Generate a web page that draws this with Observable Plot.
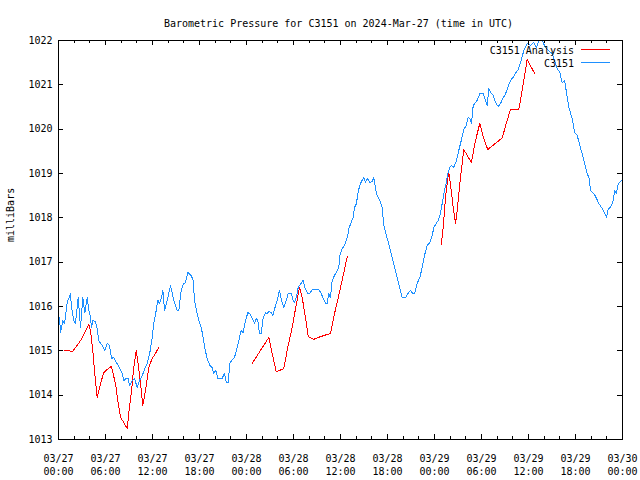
<!DOCTYPE html>
<html>
<head>
<meta charset="utf-8">
<script src="https://cdn.jsdelivr.net/npm/d3@7"></script>
<script src="https://cdn.jsdelivr.net/npm/@observablehq/plot@0.6"></script>
<style>
  html, body { margin: 0; padding: 0; background: #fff; }
</style>
</head>
<body>
<div id="chart"></div>
<script>
const titleText = "Barometric Pressure for C3151 on 2024-Mar-27 (time in UTC)";
const yLabelText = "milliBars";
const seriesNames = ["C3151 Analysis", "C3151"];
const seriesColors = ["#ff0000", "#1e90ff"];
const startUTC = Date.UTC(2024, 2, 27, 0, 0);

// hours since 2024-03-27 00:00 UTC
const xTickHours = [0, 6, 12, 18, 24, 30, 36, 42, 48, 54, 60, 66, 72];
const yTicks = [1013, 1014, 1015, 1016, 1017, 1018, 1019, 1020, 1021, 1022];

// C3151 observed
const blueHours = [0.13,0.26,0.55,0.77,1.11,1.53,1.66,1.95,2.17,2.51,2.68,2.81,3.1,3.36,3.66,3.87,4.09,4.21,4.38,4.72,4.94,5.14,5.58,5.91,6.22,6.51,6.77,7.06,7.37,7.79,8.13,8.34,8.64,8.9,9.06,9.41,9.7,10.05,10.34,10.69,11.02,11.32,11.66,11.96,12.17,12.47,12.68,12.89,13.15,13.32,13.55,13.88,14.3,14.72,15.15,15.36,15.66,15.92,16.21,16.51,16.94,17.2,17.36,17.62,17.91,18.22,18.47,18.68,18.98,19.32,19.62,19.83,20.08,20.34,20.9,21.19,21.41,21.66,21.87,22.17,22.47,22.81,23.11,23.32,23.58,23.87,24.17,24.42,24.73,25.02,25.24,25.44,25.66,25.88,26.13,26.43,26.64,26.85,27.15,27.36,27.61,27.92,28.21,28.47,28.76,29.07,29.32,29.71,29.96,30.13,30.35,30.6,30.89,31.24,31.44,31.83,32.08,32.39,33.23,33.54,33.79,34.09,34.3,34.51,34.72,34.94,35.24,35.58,35.78,35.91,36.22,36.51,36.73,36.93,37.06,37.37,37.62,37.79,38.04,38.21,38.46,38.68,38.98,39.19,39.41,39.74,40.05,40.25,40.47,40.69,41.02,41.32,41.53,41.75,42.04,42.38,42.68,43.02,43.32,43.57,43.88,44.3,44.72,44.94,45.23,45.45,45.79,46.12,46.43,46.72,47.07,47.4,47.71,47.91,48.22,48.47,48.68,48.98,49.28,49.49,49.7,49.95,50.17,50.46,50.81,51.1,51.41,51.74,52.05,52.3,52.51,52.72,52.94,53.15,53.45,53.78,54.22,54.42,54.73,54.93,55.15,55.49,55.79,56.13,56.43,56.72,57.07,57.36,57.7,58.05,58.34,58.64,58.98,59.4,59.83,60.25,60.68,61.02,61.32,61.75,62.17,62.6,63.03,63.32,63.66,64.0,64.3,64.6,64.85,65.15,65.58,65.87,66.22,66.55,66.85,67.15,67.49,67.75,67.92,68.13,68.34,68.68,68.98,69.41,69.71,69.96,70.18,70.47,70.81,71.02,71.23,71.45,71.66,71.87];
const blueValues = [1015.75,1015.41,1015.68,1015.62,1016.09,1016.29,1015.98,1015.68,1015.62,1016.2,1015.84,1015.53,1016.2,1015.86,1016.2,1015.91,1015.75,1015.53,1015.68,1015.66,1015.5,1015.23,1015.12,1015.0,1015.17,1015.12,1014.83,1014.85,1014.74,1014.62,1014.49,1014.33,1014.38,1014.38,1014.22,1014.33,1014.38,1014.17,1014.33,1014.44,1014.6,1014.71,1014.96,1015.3,1015.62,1015.91,1016.14,1016.07,1016.2,1016.36,1015.91,1016.14,1016.47,1016.14,1015.91,1015.91,1016.36,1016.5,1016.54,1016.77,1016.7,1016.59,1016.14,1015.91,1015.68,1015.53,1015.3,1015.05,1014.83,1014.67,1014.62,1014.49,1014.56,1014.38,1014.38,1014.49,1014.29,1014.29,1014.71,1014.8,1014.85,1015.08,1015.3,1015.46,1015.41,1015.68,1015.86,1015.84,1015.73,1015.62,1015.73,1015.68,1015.39,1015.39,1015.75,1015.86,1015.84,1015.89,1015.86,1015.8,1015.96,1016.14,1016.36,1016.14,1015.98,1016.14,1016.29,1016.29,1016.14,1016.09,1016.2,1016.43,1016.5,1016.59,1016.43,1016.29,1016.29,1016.38,1016.38,1016.29,1016.18,1016.07,1016.07,1016.29,1016.2,1016.59,1016.7,1016.81,1016.88,1017.15,1017.31,1017.38,1017.49,1017.6,1017.75,1017.9,1018.01,1018.23,1018.32,1018.55,1018.73,1018.82,1018.91,1018.8,1018.89,1018.8,1018.82,1018.91,1018.66,1018.5,1018.39,1018.23,1017.83,1017.67,1017.49,1017.26,1017.04,1016.81,1016.59,1016.41,1016.2,1016.2,1016.32,1016.36,1016.29,1016.29,1016.52,1016.65,1016.88,1017.15,1017.38,1017.44,1017.6,1017.78,1017.87,1017.94,1018.05,1018.32,1018.62,1018.77,1019.0,1019.14,1019.18,1019.14,1019.29,1019.52,1019.74,1020.0,1020.08,1020.26,1020.24,1020.13,1020.53,1020.58,1020.65,1020.8,1020.8,1020.69,1020.53,1020.92,1020.83,1020.76,1020.6,1020.51,1020.58,1020.69,1020.8,1020.94,1021.1,1021.17,1021.26,1021.33,1021.5,1021.77,1021.93,1021.89,1021.96,1021.84,1022.0,1022.0,1021.84,1021.77,1021.7,1021.55,1021.37,1021.28,1021.05,1021.1,1020.83,1020.49,1020.24,1019.93,1019.86,1019.63,1019.45,1019.23,1019.0,1018.89,1018.62,1018.57,1018.55,1018.44,1018.32,1018.21,1018.1,1018.01,1018.21,1018.23,1018.39,1018.62,1018.55,1018.77,1018.8,1018.85];

// C3151 Analysis (three separate runs)
const redHours1 = [0.8,1.31,1.83,2.81,3.87,4.09,4.38,4.63,4.94,5.36,5.78,6.22,6.77,6.93,7.28,7.62,7.92,8.34,8.77,8.97,9.32,9.61,9.92,10.17,10.47,10.76,11.11,11.53,11.96,12.38,12.8];
const redValues1 = [1015.0,1015.0,1014.99,1015.23,1015.59,1015.46,1015.0,1014.49,1013.95,1014.26,1014.51,1014.58,1014.65,1014.51,1014.26,1013.81,1013.5,1013.38,1013.25,1013.59,1014.1,1014.62,1015.0,1014.71,1014.26,1013.77,1014.1,1014.62,1014.83,1014.94,1015.08];
const redHours2 = [24.73,26.85,27.28,27.79,28.25,28.76,29.27,29.83,30.38,30.77,31.11,31.53,31.88,32.59,33.45,34.3,34.72,35.24,35.78,36.34,36.86];
const redValues2 = [1014.72,1015.3,1014.94,1014.53,1014.56,1014.6,1015.08,1015.53,1016.07,1016.43,1016.2,1015.75,1015.32,1015.26,1015.32,1015.37,1015.39,1015.84,1016.25,1016.7,1017.12];
const redHours3 = [48.86,49.11,49.41,49.7,49.83,50.13,50.39,50.68,50.9,51.23,51.54,51.74,52.17,52.72,53.15,53.78,54.29,54.8,55.57,56.21,56.66,57.19,57.7,58.76,58.98,59.4,59.83,60.77];
const redValues3 = [1017.4,1017.78,1018.46,1018.91,1019.02,1018.62,1018.23,1017.87,1018.17,1018.77,1019.23,1019.54,1019.41,1019.25,1019.68,1020.13,1019.79,1019.54,1019.65,1019.74,1019.81,1020.15,1020.44,1020.44,1020.65,1021.1,1021.57,1021.26];

const toDate = h => new Date(startUTC + h * 3600e3);
const blue = blueHours.map((h, i) => ({t: toDate(h), v: blueValues[i]}));
const red = [[redHours1, redValues1], [redHours2, redValues2], [redHours3, redValues3]]
  .flatMap(([hs, vs], s) => hs.map((h, i) => ({t: toDate(h), v: vs[i], seg: s})));

const xTicks = xTickHours.map(toDate);
const minorTicks = d3.range(0, 73, 2).map(toDate);

const W = 640, H = 480, mT = 40, mR = 18, mB = 41, mL = 58;
const pw = W - mL - mR, ph = H - mT - mB;
const fmt = d3.utcFormat("%m/%d\n%H:%M");

const svg = Plot.plot({
  width: W, height: H,
  marginTop: mT, marginRight: mR, marginBottom: mB, marginLeft: mL,
  style: {fontFamily: "'DejaVu Sans Mono', monospace", fontSize: "10px", background: "#fff", color: "#000"},
  x: {type: "utc", domain: [toDate(0), toDate(72)]},
  y: {domain: [1013, 1022]},
  marks: [
    Plot.line(red, {x: "t", y: "v", z: "seg", stroke: seriesColors[0], strokeWidth: 1, clip: true, shapeRendering: "crispEdges"}),
    Plot.line(blue, {x: "t", y: "v", stroke: seriesColors[1], strokeWidth: 1, clip: true, shapeRendering: "crispEdges"}),
    Plot.frame({stroke: "#000", strokeWidth: 1, shapeRendering: "crispEdges"}),
    Plot.tickX(minorTicks, {x: d => d, insetTop: ph - 3, stroke: "#000", shapeRendering: "crispEdges"}),
    Plot.tickX(minorTicks, {x: d => d, insetBottom: ph - 3, stroke: "#000", shapeRendering: "crispEdges"}),
    Plot.tickX(xTicks, {x: d => d, insetTop: ph - 5, stroke: "#000", shapeRendering: "crispEdges"}),
    Plot.tickX(xTicks, {x: d => d, insetBottom: ph - 5, stroke: "#000", shapeRendering: "crispEdges"}),
    Plot.tickY(yTicks, {y: d => d, insetRight: pw - 5, stroke: "#000", shapeRendering: "crispEdges"}),
    Plot.tickY(yTicks, {y: d => d, insetLeft: pw - 5, stroke: "#000", shapeRendering: "crispEdges"}),
    Plot.axisX({ticks: xTicks, tickFormat: fmt, tickSize: 0, tickPadding: 13, lineHeight: 1.33, label: null, fill: "#000"}),
    Plot.axisY({ticks: yTicks, tickFormat: d => String(d), tickSize: 0, tickPadding: 6, label: null, fill: "#000"}),
    Plot.text([titleText], {frameAnchor: "top", dy: -21, dx: -2, fill: "#000"}),
    Plot.text([yLabelText], {frameAnchor: "left", dx: -48, dy: 2, rotate: -90, fill: "#000"})
  ]
});

// legend (gnuplot style, top-right inside the plot)
const g = d3.select(svg).append("g").attr("font-family", "'DejaVu Sans Mono', monospace").attr("font-size", 10);
seriesNames.forEach((name, i) => {
  const base = 53.5 + i * 13.2;
  g.append("text").attr("x", W - mR - 48).attr("y", base).attr("text-anchor", "end").attr("fill", "#000").text(name);
  g.append("line").attr("x1", W - mR - 41).attr("x2", W - mR - 12)
    .attr("y1", base - 4).attr("y2", base - 4)
    .attr("stroke", seriesColors[i]).attr("stroke-width", 1).attr("shape-rendering", "crispEdges");
});

document.getElementById("chart").appendChild(svg);
</script>
</body>
</html>
